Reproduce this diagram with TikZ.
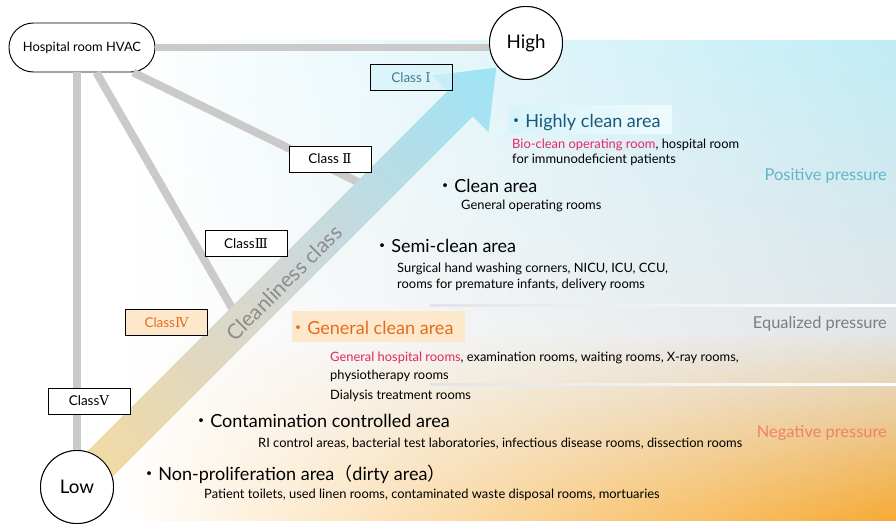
\documentclass[tikz,border=0pt]{standalone}
\usepackage{fontspec}
\setmainfont{Lato}
\newfontfamily\cjk{Noto Sans CJK JP}
\newfontfamily\numfont{DejaVu Serif}
\usetikzlibrary{positioning}

\definecolor{barGray}{RGB}{202,202,202}
\definecolor{bgTop}{RGB}{192,236,246}
\definecolor{bgMid}{RGB}{226,229,231}
\definecolor{bgBot}{RGB}{246,170,52}
\definecolor{arrLow}{RGB}{245,218,158}
\definecolor{arrMid}{RGB}{210,215,214}
\definecolor{arrHigh}{RGB}{158,228,247}
\definecolor{headBlue}{RGB}{24,88,122}
\definecolor{headOrange}{RGB}{228,108,28}
\definecolor{pinkText}{RGB}{226,38,100}
\definecolor{posText}{RGB}{98,182,200}
\definecolor{eqText}{RGB}{125,125,125}
\definecolor{negText}{RGB}{243,128,102}
\definecolor{hiBlue}{RGB}{214,244,250}
\definecolor{hiOrange}{RGB}{253,232,204}

\newcommand{\bul}{{\cjk ・}}
\newcommand{\rn}[1]{{\numfont #1}}

\begin{document}
\begin{tikzpicture}[x=0.03cm, y=-0.03cm,
    bar/.style={barGray, line width=6.8pt},
    classbox/.style={draw, line width=0.8pt, fill=white, minimum width=2.46cm,
      minimum height=0.78cm, inner sep=0pt, font=\fontsize{11.5}{13}\selectfont},
    endcirc/.style={circle, draw, line width=0.8pt, fill=white, minimum size=2.19cm,
      inner sep=0pt, font=\fontsize{16}{19}\selectfont},
    head/.style={anchor=base west, inner sep=0pt, font=\fontsize{15.4}{18}\selectfont},
    body/.style={anchor=base west, inner sep=0pt, font=\fontsize{11}{13}\selectfont},
    press/.style={anchor=base east, inner sep=0pt, font=\fontsize{14}{16}\selectfont}]
  \useasboundingbox (0,0) rectangle (896,528);

  % background, white on the left
  \foreach \i in {0,...,95}{
    \pgfmathsetmacro\yy{40+5*\i}
    \ifdim\yy pt<330pt
      \pgfmathtruncatemacro\p{(330-\yy)/2.9}
      \colorlet{stripc}{bgTop!\p!bgMid}
    \else
      \pgfmathtruncatemacro\p{(520-\yy)/1.9}
      \colorlet{stripc}{bgMid!\p!bgBot}
    \fi
    \shade[left color=white, right color=stripc] (118,\yy) rectangle (896,\yy+5.3);
  }
  \foreach \y in {305, 384}
    \shade[left color=bgMid, right color=white] (430,\y-1) rectangle (896,\y+1);

  % nodes
  \node[draw, line width=0.8pt, fill=white, rounded corners=0.73cm, minimum width=4.38cm,
    minimum height=1.47cm, font=\fontsize{11}{13}\selectfont] (hvac) at (82,47.5) {Hospital room HVAC};
  \node[endcirc] (high) at (526,43) {High};
  \node[endcirc] (low) at (77,487) {Low};
  \coordinate (bend2) at (362,184);
  \coordinate (bend3) at (236,315);

  % gray bars
  \draw[bar] (hvac) -- (hvac -| high);
  \draw[bar] (hvac.south -| low) -- (low);
  \draw[bar] (hvac) -- (bend2);
  \draw[bar] (hvac) -- (bend3);

  % cleanliness arrow
  \begin{scope}[transform canvas={rotate around={45:(77,487)}}]
    \shade[left color=arrLow, right color=arrHigh, middle color=arrMid]
      (77,505) -- (619,505) -- (619,527) -- (670,487) -- (619,447) -- (619,469) -- (77,469) -- cycle;
  \end{scope}
  \node[rotate=45, text=black!45, font=\fontsize{18}{21}\selectfont] (axis) at (284,283) {Cleanliness class};

  % circles over bars
  \node[endcirc] at (high) {High};
  \node[endcirc] at (low) {Low};

  % classes
  \node[classbox, fill=hiBlue, fill opacity=0.7, text opacity=1, text=headBlue!80] (c1) at (411,77.5) {Class \rn{Ⅰ}};
  \node[classbox] (c2) at (330,159) {Class \rn{Ⅱ}};
  \node[classbox] (c3) at (246,243.5) {Class\rn{Ⅲ}};
  \node[classbox, fill=hiOrange, text=headOrange] (c4) at (166.5,322.5) {Class\rn{Ⅳ}};
  \node[classbox] (c5) at (89,401) {Class\rn{Ⅴ}};

  % areas
  \shade[left color=hiBlue, right color=hiBlue!40] (508,105) rectangle (672,133);
  \fill[hiOrange] (292,311) rectangle (465,342);
  \node[head, text=headBlue] (a1) at (507,127) {\bul Highly clean area};
  \node[body] (a1a) at (512,148) {{\color{pinkText}Bio-clean operating room}, hospital room};
  \node[body] (a1b) at (512,163) {for immunodeficient patients};
  \node[head] (a2) at (436,192) {\bul Clean area};
  \node[body] (a2a) at (461,209) {General operating rooms};
  \node[head] (a3) at (373,252) {\bul Semi-clean area};
  \node[body] (a3a) at (397,272) {Surgical hand washing corners, NICU, ICU, CCU,};
  \node[body] (a3b) at (397,288) {rooms for premature infants, delivery rooms};
  \node[head, text=headOrange] (a4) at (289,334) {\bul General clean area};
  \node[body] (a4a) at (330,361) {{\color{pinkText}General hospital rooms}, examination rooms, waiting rooms, X-ray rooms,};
  \node[body] (a4b) at (330,379) {physiotherapy rooms};
  \node[body] (a4c) at (330,399) {Dialysis treatment rooms};
  \node[head] (a5) at (192,427) {\bul Contamination controlled area};
  \node[body] (a5a) at (258,447) {RI control areas, bacterial test laboratories, infectious disease rooms, dissection rooms};
  \node[head] (a6) at (140,480) {\bul Non-proliferation area{\cjk （}dirty area{\cjk ）}};
  \node[body] (a6a) at (204,498) {Patient toilets, used linen rooms, contaminated waste disposal rooms, mortuaries};

  % pressure
  \node[press, text=posText] (p1) at (887,180) {Positive pressure};
  \node[press, text=eqText] (p2) at (887,328) {Equalized pressure};
  \node[press, text=negText] (p3) at (887,437) {Negative pressure};
\end{tikzpicture}
\end{document}
